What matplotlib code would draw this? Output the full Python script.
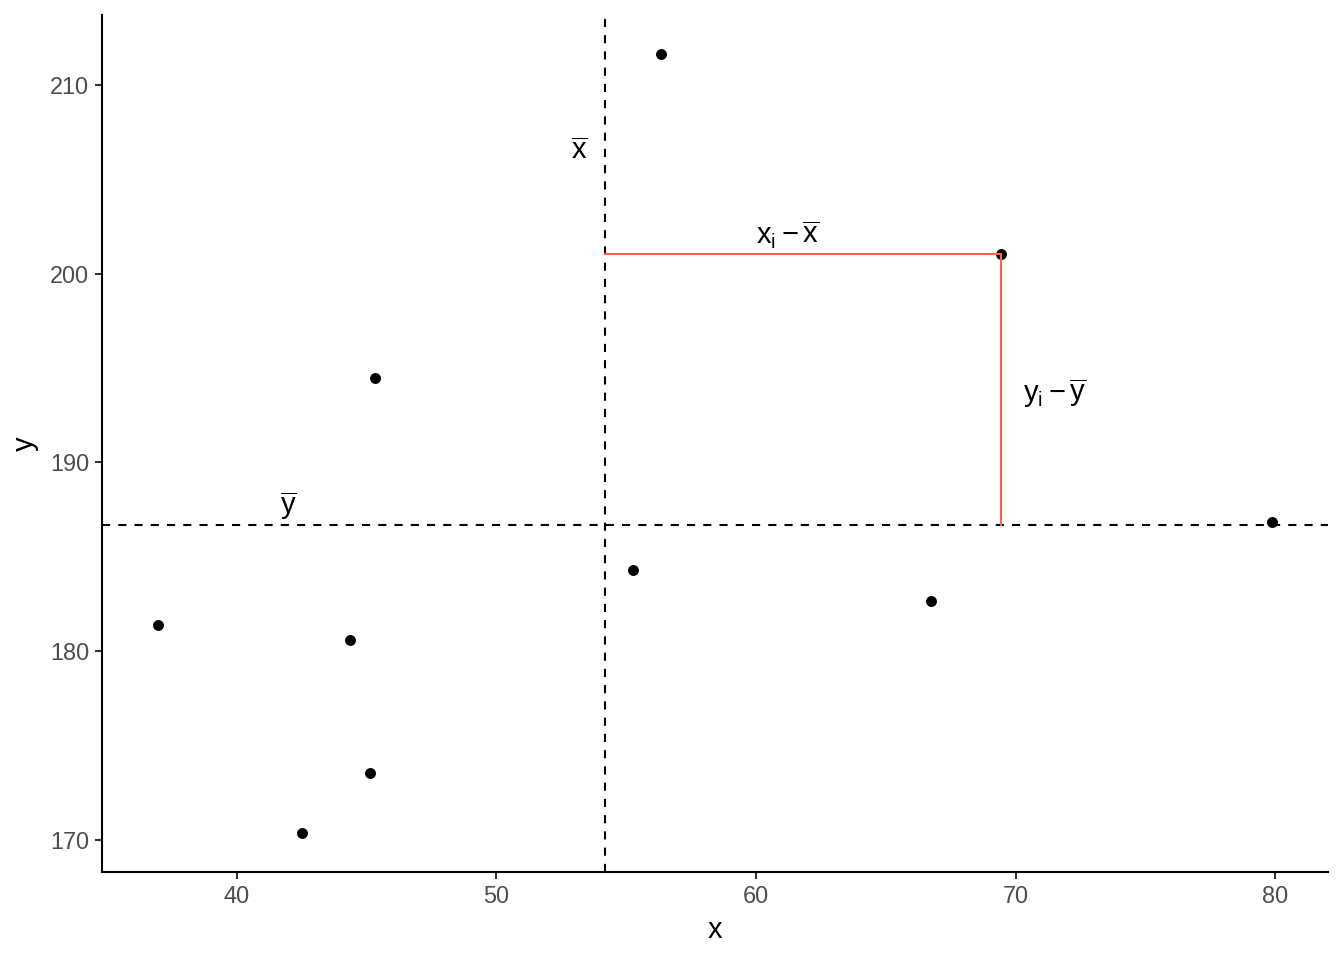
import numpy as np
import matplotlib
matplotlib.use("Agg")
import matplotlib.pyplot as plt

plt.rcParams['font.family'] = ['Liberation Sans', 'DejaVu Sans']
plt.rcParams['mathtext.fontset'] = 'custom'
plt.rcParams['mathtext.rm'] = 'Liberation Sans'
plt.rcParams['mathtext.it'] = 'Liberation Sans'
plt.rcParams['mathtext.bf'] = 'Liberation Sans:bold'

# data
x = np.array([36.96, 42.5, 44.35, 45.15, 45.31, 55.27, 56.35, 66.73, 69.42, 79.88])
y = np.array([181.41, 170.37, 180.62, 173.54, 194.47, 184.32, 211.64, 182.68, 201.02, 186.86])
hi = 8  # highlighted point index

xbar = x.mean()
ybar = y.mean()

fig = plt.figure(figsize=(13.44, 9.6), dpi=100)
ax = fig.add_axes([0.0759, 0.0917, 0.9121, 0.8927])

ax.axvline(xbar, color='black', lw=1.5, dashes=(3.9, 3.9))
ax.axhline(ybar, color='black', lw=1.5, dashes=(3.9, 3.9))

ax.scatter(x, y, s=62, color='black', zorder=3, linewidths=0)

red = '#FF6347'
ax.plot([xbar, x[hi]], [y[hi], y[hi]], color=red, lw=1.5, zorder=4)
ax.plot([x[hi], x[hi]], [ybar, y[hi]], color=red, lw=1.5, zorder=4)

fs = 21
ax.text(53.19, 206.5, r'$\overline{\mathrm{x}}$', fontsize=fs, ha='center', va='center')
ax.text(42.0, 187.7, r'$\overline{\mathrm{y}}$', fontsize=fs, ha='center', va='center')
ax.text(61.23, 202.07, r'$\mathrm{x}_{\mathrm{i}}-\overline{\mathrm{x}}$', fontsize=fs, ha='center', va='center')
ax.text(71.5, 193.67, r'$\mathrm{y}_{\mathrm{i}}-\overline{\mathrm{y}}$', fontsize=fs, ha='center', va='center')

pad_x = (x.max() - x.min()) * 0.05
pad_y = (y.max() - y.min()) * 0.05
ax.set_xlim(x.min() - pad_x, x.max() + pad_x)
ax.set_ylim(y.min() - pad_y, y.max() + pad_y)

ax.set_xticks([40, 50, 60, 70, 80])
ax.set_yticks([170, 180, 190, 200, 210])

for s in ['top', 'right']:
    ax.spines[s].set_visible(False)
for s in ['left', 'bottom']:
    ax.spines[s].set_linewidth(1.5)
    ax.spines[s].set_color('black')

ax.tick_params(axis='both', length=5.3, width=1.5, color='#333333',
               labelcolor='#4D4D4D', labelsize=16.9, pad=4)

ax.set_xlabel('x', fontsize=21, labelpad=6)
ax.set_ylabel('y', fontsize=21, labelpad=8)

fig.savefig('out.png', dpi=100)
